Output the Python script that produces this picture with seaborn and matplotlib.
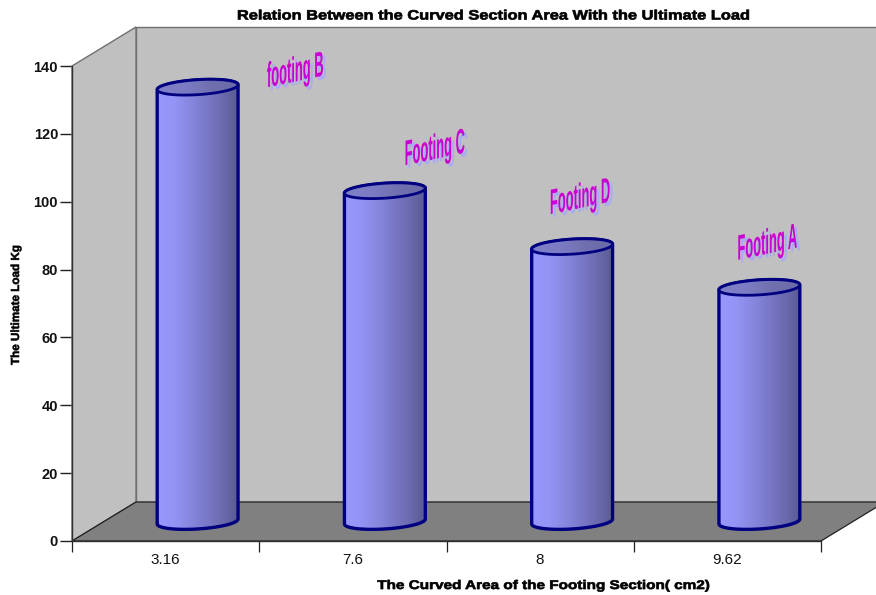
import numpy as np
import matplotlib
matplotlib.use("Agg")
import matplotlib.pyplot as plt
import matplotlib.patheffects as pe
from matplotlib.colors import LinearSegmentedColormap, to_rgb
from matplotlib.patches import Polygon, PathPatch
from matplotlib.path import Path
from matplotlib.transforms import Affine2D
import seaborn as sns

# Measurements
section_areas = ["3.16", "7.6", "8", "9.62"]
ultimate_loads = [128, 97.5, 81, 69]
footing_names = ["footing B", "Footing C", "Footing D", "Footing A"]
footing_label_offsets = [(98, 15), (50, 41), (8, 48), (8, 43)]

TITLE = "Relation Between the Curved Section Area With the Ultimate Load"
XLABEL = "The Curved Area of the Footing Section( cm2)"
YLABEL = "The Ultimate Load Kg"


class GlyphWarp(pe.AbstractPathEffect):
    """Stretch and shear text about its centre, with an optional solid offset copy."""

    def __init__(self, sx=1.0, sy=1.0, shear=0.0, shift=(0, 0), color=None, stroke=0.0):
        self.sx, self.sy, self.shear = sx, sy, shear
        self.shift = shift
        self.color = to_rgb(color) if color else None
        self.stroke = stroke

    def draw_path(self, renderer, gc, tpath, affine, rgbFace=None):
        box = tpath.get_extents()
        cx, cy = (box.x0 + box.x1) / 2, (box.y0 + box.y1) / 2
        warp = (Affine2D().translate(-cx, -cy).scale(self.sx, self.sy)
                + Affine2D.from_values(1, self.shear, 0, 1, 0, 0)
                + Affine2D().translate(cx, cy))
        full = warp + affine + Affine2D().translate(*self.shift)
        fill = self.color if self.color else rgbFace
        pen = renderer.new_gc()
        pen.copy_properties(gc)
        if self.stroke:
            pen.set_linewidth(self.stroke)
            pen.set_foreground(fill[:3])
        renderer.draw_path(pen, tpath, full, fill)
        pen.restore()


sns.set_theme(style="white")
plt.rcParams["font.family"] = ["Liberation Sans", "DejaVu Sans"]

W, H = 876, 595
fig = plt.figure(figsize=(W / 100, H / 100), dpi=100, facecolor="white")
ax = fig.add_axes([72 / W, (H - 541) / H, 749 / W, 475 / H])

sns.barplot(x=section_areas, y=ultimate_loads, order=section_areas, width=0.432,
            color="#7878C8", saturation=1, ax=ax, zorder=5)
ax.set_xlim(-0.5, 3.5)
ax.set_ylim(0, 140)
ax.patch.set_visible(False)
for side in ax.spines.values():
    side.set_visible(False)

# Pseudo-3D box: the back wall sits one depth step behind the axis plane
depth_x, depth_y = 64 / 749 * 4, 39 / 475 * 140
x0, x1, y0, y1 = -0.5, 3.5, 0, 140
box = dict(clip_on=False, joinstyle="miter")
ax.add_patch(Polygon([(x0 + depth_x, y0 + depth_y), (x1 + depth_x, y0 + depth_y),
                      (x1 + depth_x, y1 + depth_y), (x0 + depth_x, y1 + depth_y)],
                     fc="#C0C0C0", ec="#707070", lw=1.0, zorder=1, **box))
ax.add_patch(Polygon([(x0, y0), (x0 + depth_x, y0 + depth_y),
                      (x0 + depth_x, y1 + depth_y), (x0, y1)],
                     fc="#C0C0C0", ec="#707070", lw=1.0, zorder=1, **box))
ax.add_patch(Polygon([(x0, y0), (x1, y0), (x1 + depth_x, y0 + depth_y),
                      (x0 + depth_x, y0 + depth_y)],
                     fc="#808080", ec="#202020", lw=0.9, zorder=2, **box))

# Cylinders stand halfway into the box depth
body_cmap = LinearSegmentedColormap.from_list(
    "body", ["#9898FC", "#9494F6", "#8888E0", "#7A7ACA", "#6C6CB0", "#5A5A94"])
lid_cmap = LinearSegmentedColormap.from_list(
    "lid", ["#8080C8", "#7C7CC4", "#7070B0", "#6A6AA8"])
gradient = np.linspace(0, 1, 128).reshape(1, -1)
minor_radius = 2.2
tilt = 3.4
NAVY = "#000080"

for bar, name, offset in zip(ax.patches, footing_names, footing_label_offsets):
    half = bar.get_width() / 2
    cx = bar.get_x() + half + depth_x / 2
    base = depth_y / 2
    top = base + bar.get_height()
    t = np.linspace(0, 2 * np.pi, 121)
    ex, ey = half * np.cos(t), minor_radius * np.sin(t) + tilt * half * np.cos(t)

    # Outline: lower base arc, up the right side, over the lid, down the left side
    body_x = np.r_[cx + ex[60:], cx + ex[:61], cx + ex[60]]
    body_y = np.r_[base + ey[60:], top + ey[:61], base + ey[60]]
    body = PathPatch(Path(np.c_[body_x, body_y]), fc="none", ec=NAVY,
                     lw=2.4, zorder=7, clip_on=False, joinstyle="round")
    ax.add_patch(body)

    bar.set_transform(Affine2D().translate(depth_x / 2, depth_y / 2) + ax.transData)
    bar.set_edgecolor("none")
    bar.set_clip_path(body)
    image = ax.imshow(gradient, cmap=body_cmap, aspect="auto", zorder=6,
                      extent=(cx - half, cx + half, base - 8, top + 8))
    image.set_clip_path(body)

    lid = PathPatch(Path(np.c_[cx + ex, top + ey]), fc="none", ec=NAVY, lw=2.0,
                    zorder=9, clip_on=False)
    ax.add_patch(lid)
    lid_image = ax.imshow(gradient, cmap=lid_cmap, aspect="auto", zorder=8,
                          extent=(cx - half, cx + half, top - 8, top + 8))
    lid_image.set_clip_path(lid)

    warp = dict(sx=0.62, sy=1.7, shear=0.21)
    ax.annotate(name, xy=(cx, top), xytext=offset, textcoords="offset pixels",
                ha="center", va="center", fontsize=15, fontweight="bold",
                color="#C800D2", zorder=10,
                path_effects=[GlyphWarp(shift=(3, -3), color="#ABABF2", **warp),
                              GlyphWarp(**warp)])

ax.set_xlim(-0.5, 3.5)
ax.set_ylim(0, 140)

# Axis ticks: separators between categories, labels centred in each slot
ax.set_yticks(range(0, 141, 20))
ax.set_xticks(np.arange(-0.5, 4), minor=True)
ax.tick_params(axis="x", which="minor", length=8, width=0.9, color="#202020", bottom=True)
ax.tick_params(axis="x", which="major", length=0, pad=9)
ax.tick_params(axis="y", length=9, width=1.0, color="#202020", left=True, pad=1)
for label in ax.get_yticklabels():
    label.set(fontsize=10.5, fontweight="bold", color="#111111")
for label in ax.get_xticklabels():
    label.set(fontsize=11, color="#111111")
ax.plot([x0, x1], [0, 0], color="#303030", lw=1.0, clip_on=False, zorder=3)
ax.plot([x0, x0], [0, 140], color="#303030", lw=1.0, clip_on=False, zorder=3)

fig.text(494.5 / W, 1 - 16.5 / H, TITLE, ha="center", va="center", fontsize=9.7,
         fontweight="bold", color="black", path_effects=[GlyphWarp(sx=1.217, stroke=0.5)])
fig.text(543.5 / W, 1 - 586 / H, XLABEL, ha="center", va="center", fontsize=9.0,
         fontweight="bold", color="black", path_effects=[GlyphWarp(sx=1.224, stroke=0.5)])
fig.text(16 / W, 1 - 305 / H, YLABEL, ha="center", va="center", rotation=90,
         fontsize=8.4, fontweight="bold", color="black",
         path_effects=[GlyphWarp(stroke=0.4)])

fig.savefig("out.png", dpi=100)
